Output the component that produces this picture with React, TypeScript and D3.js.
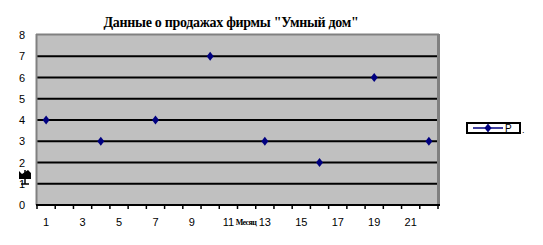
import React from "react";
import * as d3 from "d3";

const categories: number[] = d3.range(1, 23);
const sales: (number | null)[] = [4, null, null, 3, null, null, 4, null, null, 7, null, null, 3, null, null, 2, null, null, 6, null, null, 3];
const yTicks: number[] = [0, 1, 2, 3, 4, 5, 6, 7, 8];
const xLabels: number[] = [1, 3, 5, 7, 9, 11, 13, 15, 17, 19, 21];
const title = 'Данные о продажах фирмы "Умный дом"';
const xTitle = "Месяц";
const legendLabel = "Р";

export default function App() {
  const W = 543, H = 245;
  const left = 37, right = 438, top = 35, bottom = 205;
  const x = d3.scaleBand<number>().domain(categories).range([left, right]);
  const y = d3.scaleLinear().domain([0, 8]).range([bottom, top]);
  const cx = (c: number) => (x(c) as number) + x.bandwidth() / 2;
  const diamond = (px: number, py: number) =>
    `M${px},${py - 4.5}L${px + 3.5},${py}L${px},${py + 4.5}L${px - 3.5},${py}Z`;
  return (
    <svg width={W} height={H} style={{ position: "absolute", left: 0, top: 0, background: "#fff" }}>
      <text x={231} y={27} textAnchor="middle" fontFamily="Liberation Serif" fontWeight="bold" fontSize={14} letterSpacing={-0.3}>{title}</text>
      <rect x={left} y={top} width={right - left} height={bottom - top} fill="#c0c0c0" />
      {yTicks.filter(t => t > 0 && t < 8).map(t => (
        <line key={t} x1={left} x2={right} y1={y(t)} y2={y(t)} stroke="#000" strokeWidth={2} />
      ))}
      <line x1={left - 0.5} x2={left - 0.5} y1={top - 1} y2={bottom} stroke="#808080" strokeWidth={2} />
      <line x1={left - 1} x2={right + 1} y1={top - 0.5} y2={top - 0.5} stroke="#808080" strokeWidth={2} />
      <line x1={right + 0.5} x2={right + 0.5} y1={top - 1} y2={bottom} stroke="#808080" strokeWidth={3} />
      <line x1={left - 1} x2={right + 2} y1={bottom} y2={bottom} stroke="#000" strokeWidth={2} />
      {categories.map(c => (
        <line key={c} x1={x(c) as number} x2={x(c) as number} y1={bottom} y2={bottom + 4} stroke="#000" strokeWidth={1.5} />
      ))}
      <line x1={right} x2={right} y1={bottom} y2={bottom + 4} stroke="#000" strokeWidth={1.5} />
      {yTicks.map(t => (
        <text key={t} x={25} y={y(t) + 4} textAnchor="end" fontFamily="Liberation Sans" fontSize={11}>{t}</text>
      ))}
      {xLabels.map(c => (
        <text key={c} x={cx(c)} y={226} textAnchor="middle" fontFamily="Liberation Sans" fontSize={11}>{c}</text>
      ))}
      <text x={246} y={225} textAnchor="middle" fontFamily="Liberation Serif" fontWeight="bold" fontSize={8} letterSpacing={-0.6}>{xTitle}</text>
      <g transform="translate(25,176)">
        <path d="M-6,-5 L-3,-2 L3,-6 L6,-3 L6,3 L-6,3 Z" fill="#000" />
        <line x1={0} x2={0} y1={-6} y2={8} stroke="#000" strokeWidth={1.5} />
        <line x1={-4} x2={4} y1={8} y2={8} stroke="#000" strokeWidth={1.5} />
        <line x1={-6} x2={6} y1={0} y2={0} stroke="#000" strokeWidth={2} />
      </g>
      {categories.map((c, i) =>
        sales[i] == null ? null : (
          <path key={c} d={diamond(cx(c), y(sales[i] as number))} fill="#000080" />
        )
      )}
      <rect x={467} y={123} width={53} height={10} fill="#fff" stroke="#000" strokeWidth={2} />
      <line x1={473} x2={503} y1={128} y2={128} stroke="#000080" strokeWidth={1.5} />
      <path d={diamond(488, 128)} fill="#000080" />
      <text x={505} y={132} fontFamily="Liberation Sans" fontSize={10}>{legendLabel}</text>
      <text x={522} y={133} fontFamily="Liberation Sans" fontSize={9}>.</text>
    </svg>
  );
}
